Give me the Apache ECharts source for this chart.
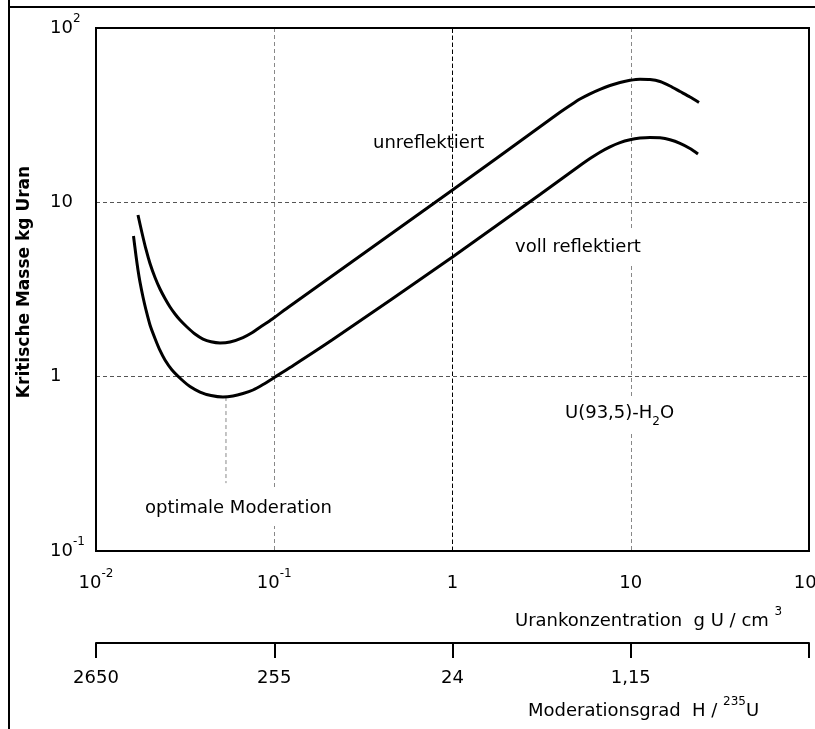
<!DOCTYPE html>
<html><head><meta charset="utf-8">
<script src="https://cdn.jsdelivr.net/npm/echarts@6/dist/echarts.min.js"></script>
<style>html,body{margin:0;padding:0;background:#fff}#c{width:815px;height:729px}</style>
</head><body><div id="c"></div><script>
// Uranium concentration (g U / cm^3) and critical mass (kg U)
const concUnreflected = [0.01720, 0.01812, 0.01908, 0.02009, 0.02143, 0.02286, 0.02438, 0.02602, 0.02775, 0.02960, 0.03239, 0.03592, 0.03984, 0.04418, 0.04962, 0.05647, 0.06678, 0.07502, 0.08320, 0.09224, 0.1010, 0.1226, 1.0, 3.097, 4.010, 4.562, 5.191, 5.907, 6.722, 7.648, 8.704, 9.904, 11.27, 12.82, 14.59, 16.61, 18.90, 21.50, 24.15];
const massUnreflected = [8.457, 6.671, 5.364, 4.458, 3.705, 3.183, 2.808, 2.509, 2.288, 2.113, 1.927, 1.757, 1.644, 1.585, 1.560, 1.580, 1.677, 1.785, 1.921, 2.058, 2.199, 2.543, 11.77, 27.13, 32.84, 35.93, 39.15, 41.94, 44.50, 46.80, 48.69, 50.12, 50.85, 50.65, 49.33, 46.49, 43.23, 40.21, 37.39];
const concReflected = [0.01623, 0.01677, 0.01720, 0.01765, 0.01835, 0.01908, 0.02009, 0.02143, 0.02286, 0.02438, 0.02670, 0.03038, 0.03367, 0.03833, 0.04418, 0.05158, 0.05869, 0.06678, 0.07600, 0.08648, 0.1010, 0.1226, 0.2109, 1.0, 3.097, 5.191, 5.907, 6.722, 7.648, 8.704, 9.904, 11.27, 12.82, 14.59, 16.61, 18.90, 21.50, 23.84];
const massReflected = [6.411, 4.921, 4.091, 3.491, 2.863, 2.412, 1.979, 1.656, 1.413, 1.246, 1.092, 0.9568, 0.8780, 0.8166, 0.7797, 0.7644, 0.7745, 0.8006, 0.8385, 0.9016, 0.9954, 1.128, 1.623, 4.858, 11.10, 16.25, 17.82, 19.39, 20.82, 22.01, 22.84, 23.36, 23.58, 23.45, 22.84, 21.78, 20.36, 18.93];
// optimum moderation guide
const optimumConc = [0.0536, 0.0536];
const optimumMass = [0.764, 0.245];
// ticks
const concTickExp = [-2, -1, 0, 1, 2];
const concTickLabels = ['{b|10}{s|-2}', '{b|10}{s|-1}', '{b|1}', '{b|10}', '{b|10}{s|2}'];
const massTickExp = [-1, 0, 1, 2];
const massTickLabels = ['{b|10}{s|-1}', '{b|1}', '{b|10}', '{b|10}{s|2}'];
const modTickExp = [-2, -1, 0, 1, 2];
const modTickLabels = ['2650', '255', '24', '1,15', ''];

const FF = "'DejaVu Sans', sans-serif";
const rich = {
  b: {fontSize: 18, fontFamily: FF, color: '#000', lineHeight: 24, verticalAlign: 'bottom'},
  s: {fontSize: 12, fontFamily: FF, color: '#000', verticalAlign: 'top'}
};
function lookup(exps, labels) {
  return function (v) {
    const e = Math.round(Math.log10(v));
    const i = exps.indexOf(e);
    return i >= 0 ? labels[i] : '';
  };
}
function zip(a, b) { return a.map((x, i) => [x, b[i]]); }

const chart = echarts.init(document.getElementById('c'), null, {renderer: 'canvas'});
chart.setOption({
  animation: false,
  backgroundColor: '#fff',
  textStyle: {fontFamily: FF},
  grid: [
    {left: 96, right: 6, top: 28, bottom: 178, show: true, borderColor: '#000', borderWidth: 2,
     backgroundColor: 'transparent', containLabel: false, outerBoundsMode: 'none', z: 10},
    {left: 96, right: 6, top: 600, height: 43, show: false, containLabel: false, outerBoundsMode: 'none'}
  ],
  xAxis: [
    {type: 'log', gridIndex: 0, min: 0.01, max: 100, logBase: 10,
     axisLine: {show: false}, axisTick: {show: false},
     axisLabel: {margin: 17, formatter: lookup(concTickExp, concTickLabels), rich: rich, showMinLabel: true, showMaxLabel: true},
     splitLine: {show: true, showMinLine: false, showMaxLine: false, lineStyle: {color: '#888', type: [4, 3], width: 1}}},
    {type: 'log', gridIndex: 1, min: 0.01, max: 100, logBase: 10, position: 'bottom',
     axisLine: {show: true, lineStyle: {color: '#000', width: 2}},
     axisTick: {show: true, length: 15, lineStyle: {color: '#000', width: 2}},
     axisLabel: {margin: 26, color: '#000', fontSize: 18, fontFamily: FF, formatter: lookup(modTickExp, modTickLabels), showMinLabel: true, showMaxLabel: true},
     splitLine: {show: false}}
  ],
  yAxis: [
    {type: 'log', gridIndex: 0, min: 0.1, max: 100, logBase: 10,
     axisLine: {show: false}, axisTick: {show: false},
     axisLabel: {margin: 46, align: 'left', padding: [0, 0, 6, 0], formatter: lookup(massTickExp, massTickLabels), rich: rich, showMinLabel: true, showMaxLabel: true},
     splitLine: {show: true, showMinLine: false, showMaxLine: false, lineStyle: {color: '#555', type: [4, 3], width: 1}}},
    {type: 'value', gridIndex: 1, min: 0, max: 1, show: false}
  ],
  series: [
    {name: 'unreflektiert', type: 'line', xAxisIndex: 0, yAxisIndex: 0, data: zip(concUnreflected, massUnreflected),
     showSymbol: false, smooth: 0.25, lineStyle: {color: '#000', width: 3}, z: 5},
    {name: 'voll reflektiert', type: 'line', xAxisIndex: 0, yAxisIndex: 0, data: zip(concReflected, massReflected),
     showSymbol: false, smooth: 0.25, lineStyle: {color: '#000', width: 3}, z: 5,
     markLine: {silent: true, symbol: 'none', label: {show: false},
       lineStyle: {color: '#000', type: [4, 3], width: 1}, data: [{xAxis: 1}]}},
    {name: 'optimum', type: 'line', xAxisIndex: 0, yAxisIndex: 0, data: zip(optimumConc, optimumMass),
     showSymbol: false, lineStyle: {color: '#888', type: [4, 3], width: 1}, z: 3}
  ],
  graphic: [
    {type: 'line', shape: {x1: 9, y1: 0, x2: 9, y2: 729}, style: {stroke: '#000', lineWidth: 2}},
    {type: 'line', shape: {x1: 8, y1: 7, x2: 815, y2: 7}, style: {stroke: '#000', lineWidth: 2}},
    {type: 'text', x: 25, y: 282, rotation: Math.PI / 2, z: 100,
     style: {text: 'Kritische Masse kg Uran', font: "bold 17px 'DejaVu Sans', sans-serif", fill: '#000', align: 'center', verticalAlign: 'middle'}},
    {type: 'text', x: 373, y: 143, z: 100,
     style: {text: 'unreflektiert', font: "18px 'DejaVu Sans', sans-serif", fill: '#000', align: 'left', verticalAlign: 'middle'}},
    {type: 'text', x: 513, y: 247, z: 100,
     style: {text: 'voll reflektiert', font: "18px 'DejaVu Sans', sans-serif", fill: '#000', align: 'left', verticalAlign: 'middle', backgroundColor: '#fff', padding: [8, 2, 8, 2]}},
    {type: 'text', x: 563, y: 416, z: 100,
     style: {text: '{t|U(93,5)-H}{d|2}{t|O}', align: 'left', verticalAlign: 'middle', backgroundColor: '#fff', padding: [6, 2, 6, 2],
       rich: {t: {fontSize: 18, fontFamily: FF, fill: '#000', color: '#000', lineHeight: 24, verticalAlign: 'top'},
              d: {fontSize: 12, fontFamily: FF, fill: '#000', color: '#000', verticalAlign: 'bottom'}}}},
    {type: 'text', x: 143, y: 508, z: 100,
     style: {text: 'optimale Moderation', font: "18px 'DejaVu Sans', sans-serif", fill: '#000', align: 'left', verticalAlign: 'middle', backgroundColor: '#fff', padding: [16, 2, 2, 2]}},
    {type: 'text', x: 515, y: 618, z: 100,
     style: {text: '{b|Urankonzentration  g U / cm }{s|3}', align: 'left', verticalAlign: 'middle', rich: rich}},
    {type: 'text', x: 528, y: 708, z: 100,
     style: {text: '{b|Moderationsgrad  H / }{s|235}{b|U}', align: 'left', verticalAlign: 'middle', rich: rich}}
  ]
});
</script></body></html>
